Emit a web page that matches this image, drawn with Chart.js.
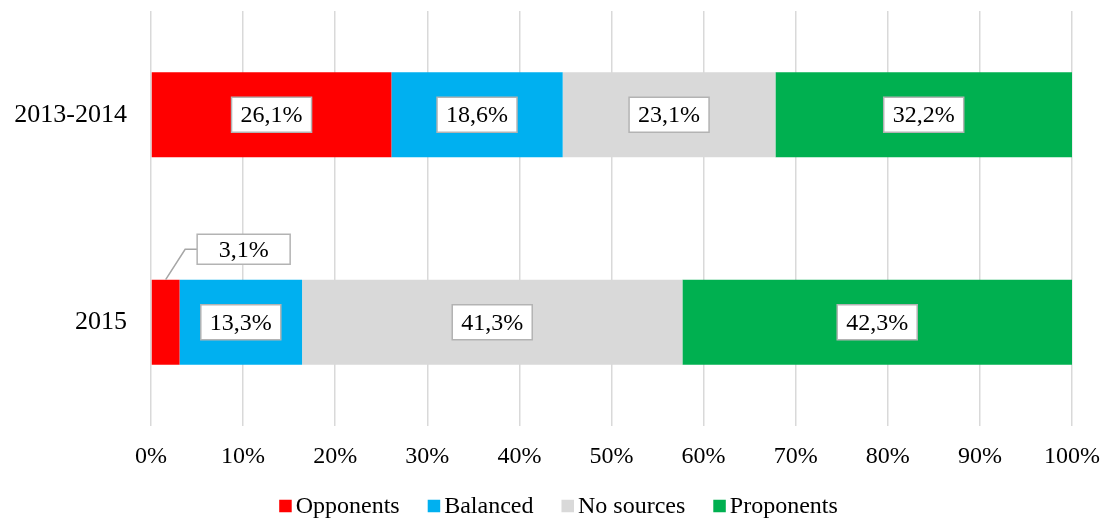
<!DOCTYPE html>
<html>
<head>
<meta charset="utf-8">
<title>Sources by period</title>
<script src="https://cdn.jsdelivr.net/npm/chart.js@4.4.1/dist/chart.umd.min.js"></script>
<style>
  html, body { margin: 0; padding: 0; background: #fff; }
  #wrap { width: 1107px; height: 522px; }
</style>
</head>
<body>
<div id="wrap"><canvas id="chart" width="1107" height="522"></canvas></div>
<script>
"use strict";

// chart data
const categories = ["2013-2014", "2015"];
const seriesNames = ["Opponents", "Balanced", "No sources", "Proponents"];
const seriesColors = ["#ff0000", "#00b0f0", "#d9d9d9", "#00b050"];
const opponents = [26.1, 3.1];
const balanced = [18.6, 13.3];
const noSources = [23.1, 41.3];
const proponents = [32.2, 42.3];
const tickValues = [0, 10, 20, 30, 40, 50, 60, 70, 80, 90, 100];

const SERIF = "'Liberation Serif', 'Times New Roman', serif";

// format 26.1 -> "26,1%"
function pct(v) {
  return v.toFixed(1).replace(".", ",") + "%";
}

// Boxed value labels, small slices get a callout with a leader line
const valueLabels = {
  id: "valueLabels",
  afterDatasetsDraw(chart) {
    const ctx = chart.ctx;
    ctx.save();
    ctx.font = "24px " + SERIF;
    ctx.textAlign = "center";
    ctx.textBaseline = "middle";
    chart.data.datasets.forEach((ds, di) => {
      const meta = chart.getDatasetMeta(di);
      meta.data.forEach((bar, i) => {
        const v = ds.data[i];
        const cx = (bar.x + bar.base) / 2;
        const cy = bar.y;
        const label = pct(v);
        const tw = ctx.measureText(label).width;
        let bx, by, bw, bh;
        if (v < 5) {
          // callout above the bar
          bw = 93; bh = 30;
          bx = cx + 78 - bw / 2;
          by = cy - 73 - bh / 2;
          const top = cy - bar.height / 2;
          ctx.strokeStyle = "#a6a6a6";
          ctx.lineWidth = 1.5;
          ctx.beginPath();
          ctx.moveTo(cx, top);
          ctx.lineTo(bx - 12, by + bh / 2);
          ctx.lineTo(bx, by + bh / 2);
          ctx.stroke();
        } else {
          bw = tw + 18; bh = 35;
          bx = cx - bw / 2;
          by = cy - bh / 2;
        }
        ctx.fillStyle = "#ffffff";
        ctx.fillRect(bx, by, bw, bh);
        ctx.strokeStyle = "#b3b3b3";
        ctx.lineWidth = 1.5;
        ctx.strokeRect(bx, by, bw, bh);
        ctx.fillStyle = "#000000";
        ctx.fillText(label, bx + bw / 2, by + bh / 2 + 1);
      });
    });
    ctx.restore();
  }
};

// Legend in the Excel style: small square, text right next to it
const bottomLegend = {
  id: "bottomLegend",
  afterDraw(chart) {
    const ctx = chart.ctx;
    const box = 12.5, gapText = 4, gapItem = 28;
    const cy = 506;
    ctx.save();
    ctx.font = "24px " + SERIF;
    ctx.textBaseline = "middle";
    ctx.textAlign = "left";
    const items = chart.data.datasets.map((ds) => ({
      text: ds.label,
      color: ds.backgroundColor,
      w: box + gapText + ctx.measureText(ds.label).width
    }));
    const total = items.reduce((s, it) => s + it.w, 0) + gapItem * (items.length - 1);
    let x = 558.5 - total / 2;
    items.forEach((it) => {
      ctx.fillStyle = it.color;
      ctx.fillRect(x, cy - box / 2, box, box);
      ctx.fillStyle = "#000000";
      ctx.fillText(it.text, x + box + gapText, cy + 1);
      x += it.w + gapItem;
    });
    ctx.restore();
  }
};

const values = [opponents, balanced, noSources, proponents];

new Chart(document.getElementById("chart").getContext("2d"), {
  type: "bar",
  data: {
    labels: categories,
    datasets: seriesNames.map((name, k) => ({
      label: name,
      data: values[k],
      backgroundColor: seriesColors[k],
      borderWidth: 0,
      barPercentage: 0.41,
      categoryPercentage: 1
    }))
  },
  options: {
    indexAxis: "y",
    responsive: false,
    animation: false,
    layout: { padding: { top: 11, right: 35, bottom: 46, left: 0 } },
    plugins: {
      legend: { display: false },
      tooltip: { enabled: false }
    },
    scales: {
      x: {
        stacked: true,
        min: 0,
        max: 100,
        afterBuildTicks(scale) {
          scale.ticks = tickValues.map((v) => ({ value: v }));
        },
        afterFit(scale) {
          scale.height = 50;
          scale.paddingLeft = 0;
          scale.paddingRight = 0;
        },
        grid: { color: "#d9d9d9", lineWidth: 1.5, drawTicks: false },
        border: { display: false },
        ticks: {
          padding: 16,
          color: "#000",
          font: { family: SERIF, size: 24 },
          callback: (v) => v + "%"
        }
      },
      y: {
        stacked: true,
        afterFit(scale) {
          scale.width = 151;
          scale.paddingTop = 0;
          scale.paddingBottom = 0;
        },
        grid: { display: false, drawTicks: false },
        border: { display: false },
        ticks: {
          padding: 24,
          color: "#000",
          font: { family: SERIF, size: 26 }
        }
      }
    }
  },
  plugins: [valueLabels, bottomLegend]
});
</script>
</body>
</html>
